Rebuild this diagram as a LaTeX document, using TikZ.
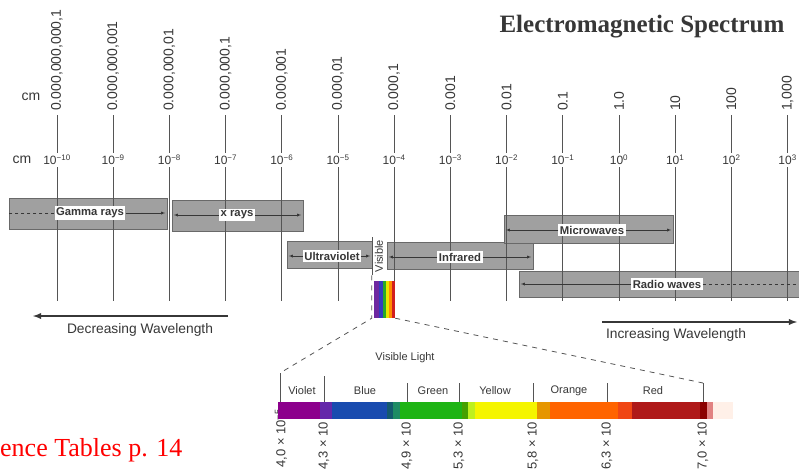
\documentclass[tikz,border=0pt]{standalone}
\usepackage{fontspec}
\setmainfont{Liberation Sans}
\newfontfamily\titlefont{Liberation Serif}
\definecolor{emInkColor}{RGB}{55,55,55}
\definecolor{emLineColor}{RGB}{85,85,85}
\definecolor{emBandColor}{RGB}{160,160,160}
\definecolor{emBandEdgeColor}{RGB}{105,105,105}

\begin{document}
\begin{tikzpicture}[x=1pt,y=-1pt]
            \tikzset{band/.style={draw=emBandEdgeColor, fill=emBandColor, inner sep=0pt},
                     bandlabel/.style={fill=white, inner sep=1.5pt, text=emInkColor, font=\fontsize{11.3}{13}\selectfont\bfseries},
                     bandline/.style={emInkColor, thin},
                     tick/.style={emLineColor, line width=0.9pt},
                     cmlabel/.style={text=emInkColor, font=\fontsize{14}{16}\selectfont, inner sep=1pt},
                     explabel/.style={text=emInkColor, font=\fontsize{12}{14}\selectfont, inner sep=2pt},
                     hue/.style={text=emInkColor, font=\fontsize{11}{13}\selectfont},
                     wavelabel/.style={rotate=90, anchor=east, text=emInkColor, font=\fontsize{13}{15}\selectfont, inner sep=1pt},
                     zoomline/.style={emLineColor, thick, dashed, dash pattern=on 5pt off 5pt}}
            \useasboundingbox (0,0) rectangle (799,474);

            \node[font=\titlefont\bfseries\fontsize{25}{28}\selectfont, text=emInkColor] (title) at (642,27) {Electromagnetic Spectrum};

            \node[band, minimum width=158pt, minimum height=31pt] (gamma) at (88,213.5) {};
            \node[band, minimum width=131pt, minimum height=31pt] (xray) at (237.5,215.5) {};
            \node[band, minimum width=85pt, minimum height=27pt] (uv) at (329.5,254.5) {};
            \node[band, minimum width=146pt, minimum height=27pt] (ir) at (460,255.5) {};
            \node[band, minimum width=169pt, minimum height=28pt] (micro) at (588.5,229) {};
            \node[band, minimum width=282pt, minimum height=26pt] (radio) at (660,284) {};

            \node[cmlabel] (cmtop) at (31,97) {cm};
            \node[cmlabel] (cmexp) at (22,160) {cm};

            \foreach \lab/\ex [count=\i from 0] in {{0.000,000,000,1}/−10, {0.000,000,001}/−9, {0.000,000,01}/−8,
                    {0.000,000,1}/−7, {0.000,001}/−6, {0.000,01}/−5, {0.000,1}/−4, {0.001}/−3, {0.01}/−2,
                    {0.1}/−1, {1.0}/0, {10}/1, {100}/2, {1,000}/3} {
                \pgfmathsetmacro\cx{57+56.2*\i}
                \node[cmlabel, rotate=90, anchor=west] (top\i) at (\cx,112) {\lab};
                \node[explabel] (exp\i) at (\cx,160) {10\textsuperscript{\ex}};
                \draw[tick] ([yshift=-3pt]top\i.west) -- (exp\i.north);
                \draw[tick] (exp\i.south) -- (\cx,301);
            }

            \node[bandlabel] (gammaL) at (90,213) {Gamma rays};
            \node[bandlabel] (xrayL) at (237,215) {x rays};
            \node[bandlabel] (uvL) at (332,256) {Ultraviolet};
            \node[bandlabel] (irL) at (460,257) {Infrared};
            \node[bandlabel] (microL) at (592,230) {Microwaves};
            \node[bandlabel] (radioL) at (667,284) {Radio waves};

            \draw[bandline, dashed] (gammaL.west) -- (gammaL.west -| gamma.west);
            \draw[bandline, -latex, shorten >=2pt] (gammaL.east) -- (gammaL.east -| gamma.east);
            \draw[bandline, -latex, shorten >=2pt] (xrayL.west) -- (xrayL.west -| xray.west);
            \draw[bandline, -latex, shorten >=2pt] (xrayL.east) -- (xrayL.east -| xray.east);
            \draw[bandline, -latex, shorten >=2pt] (uvL.west) -- (uvL.west -| uv.west);
            \draw[bandline, -latex, shorten >=2pt] (uvL.east) -- (uvL.east -| uv.east);
            \draw[bandline, -latex, shorten >=2pt] (irL.west) -- (irL.west -| ir.west);
            \draw[bandline, -latex, shorten >=2pt] (irL.east) -- (irL.east -| ir.east);
            \draw[bandline, -latex, shorten >=2pt] (microL.west) -- (microL.west -| micro.west);
            \draw[bandline, -latex, shorten >=2pt] (microL.east) -- (microL.east -| micro.east);
            \draw[bandline, -latex, shorten >=2pt] (radioL.west) -- (radioL.west -| radio.west);
            \draw[bandline, dashed] (radioL.east) -- (radioL.east -| radio.east);

            \node[rotate=90, text=emInkColor, font=\fontsize{11}{13}\selectfont, inner sep=3pt] (visL) at (379,256) {Visible};
            \foreach \xa/\xb/\r/\g/\b in {374/379/110/40/160, 379/383/50/60/190, 383/386/40/170/40,
                    386/389/230/230/0, 389/392/255/140/0, 392/395/210/30/30} {
                \definecolor{stripe}{RGB}{\r,\g,\b}
                \fill[stripe] (\xa,281) rectangle (\xb,318);
            }
            \node[minimum width=21pt, minimum height=37pt, inner sep=0pt] (spot) at (384.5,299.5) {};

            \foreach \x/\t [count=\k from 0] in {280/373, 324/376, 407/383, 459/383, 533/383, 607/383, 703/383} {
                \coordinate (tt\k) at (\x,\t);
                \draw[tick] (tt\k) -- (\x,402);
            }
            \draw[emLineColor, thin] (visL.north west) -- (visL.north east);
            \draw[zoomline] (visL.north west) -- (visL.north west |- spot.south) -- (tt0);
            \draw[zoomline] (spot.south east) -- (tt6);

            \node[hue] (visTitle) at (405,358) {Visible Light};
            \node[hue] (violet) at (302,391) {Violet};
            \node[hue] (blue) at (365,391) {Blue};
            \node[hue] (green) at (433,391) {Green};
            \node[hue] (yellow) at (495,391) {Yellow};
            \node[hue] (orange) at (569,391) {Orange};
            \node[hue] (red) at (653,391) {Red};

            \node[wavelabel] (w0) at (281,408) {4,0 × 10\textsuperscript{−5}};
            \foreach \x/\v [count=\k from 1] in {324/{4,3}, 407/{4,9}, 459/{5,3}, 533/{5,8}, 607/{6,3}, 703/{7,0}} {
                \node[wavelabel] (w\k) at (\x,421) {\v\ × 10};
            }

            \foreach \xa/\xb/\r/\g/\b in {278/320/140/0/140, 320/332/100/40/170, 332/387/25/75/175, 387/393/20/90/110,
                    393/400/30/140/100, 400/462/30/180/20, 462/468/70/160/0, 468/475/190/240/30, 475/537/245/245/0,
                    537/550/230/150/0, 550/618/255/100/0, 618/632/240/70/20, 632/700/175/25/25, 700/707/140/0/0,
                    707/713/225/130/130, 713/733/255/240/232} {
                \definecolor{stripe}{RGB}{\r,\g,\b}
                \fill[stripe] (\xa,402) rectangle (\xb,419);
            }

            \coordinate (decStart) at (228,316);
            \coordinate (decEnd) at (33,316);
            \coordinate (incStart) at (602,322);
            \coordinate (incEnd) at (797,322);
            \draw[-latex, line width=1.8pt, emInkColor] (decStart) -- (decEnd);
            \draw[-latex, line width=1.8pt, emInkColor] (incStart) -- (incEnd);
            \node[text=emInkColor, font=\fontsize{13.8}{16}\selectfont] (decText) at (140,330) {Decreasing Wavelength};
            \node[text=emInkColor, font=\fontsize{13.8}{16}\selectfont] (incText) at (676,335) {Increasing Wavelength};

            \node[anchor=base west, inner sep=0pt, text=red, font=\titlefont\fontsize{26}{30}\selectfont] (ref) at (0,456) {ence Tables p. 14};
        \end{tikzpicture}
\end{document}
